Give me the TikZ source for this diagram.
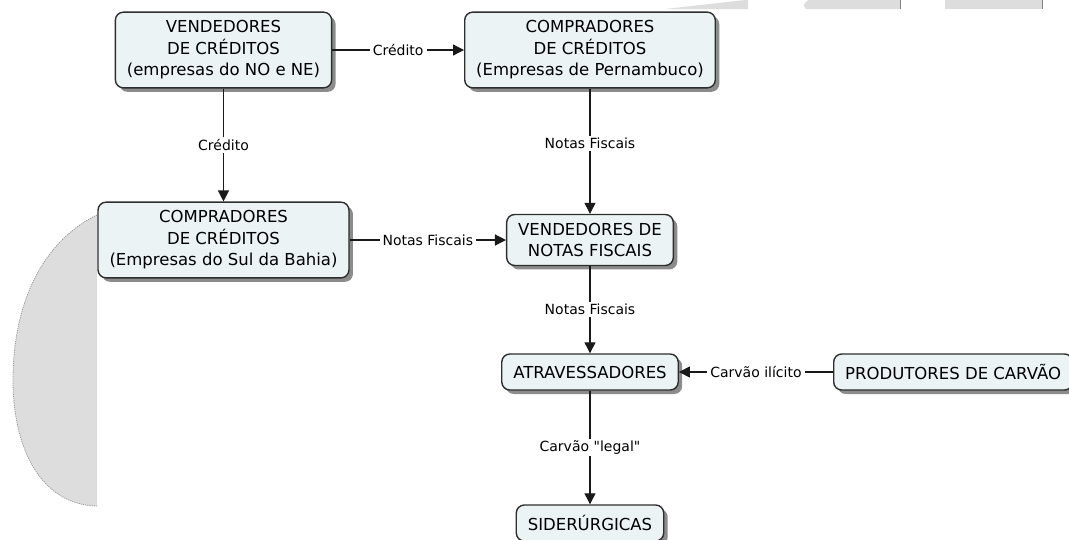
\documentclass[tikz,border=0pt]{standalone}
\usepackage{fontspec}
\setmainfont{DejaVu Sans}
\usetikzlibrary{arrows.meta}
\usetikzlibrary{shadows}
\definecolor{boxfill}{HTML}{EBF3F5}
\definecolor{boxline}{HTML}{2E2E2E}
\definecolor{blotch}{HTML}{DDDDDD}
\tikzset{
	every path/.style={line width=1.2pt},
	concept/.style={
		draw=boxline,
		fill=boxfill,
		line width=1.4pt,
		rounded corners=8pt,
		align=center,
		font=\fontsize{16.5}{21.5}\selectfont,
		inner xsep=11.5pt,
		inner ysep=8.5pt,
		drop shadow={shadow xshift=4pt, shadow yshift=-4pt, fill=black!45, opacity=1},
	},
	single/.style={
		minimum height=36pt,
		inner ysep=0pt,
	},
	flow/.style={
		draw=black!90,
		-{Triangle[width=11pt,length=11pt]}
	},
	flowlabel/.style={
		fill=white,
		font=\fontsize{14}{16}\selectfont,
		inner xsep=3pt,
		inner ysep=2pt,
	},
}

\begin{document}
\begin{tikzpicture}[x=1pt, y=-1pt]
		\useasboundingbox (0,0) rectangle (1069,539);

		% grey leftovers of the scanned page
		\fill[blotch] (97,215) .. controls (45,240) and (13,300) .. (13,380) .. controls (13,450) and (42,505) .. (97,506) -- cycle;
		\draw[gray!80, densely dotted, line width=0.8pt] (97,215) .. controls (45,240) and (13,300) .. (13,380) .. controls (13,450) and (42,505) .. (97,506);
		\fill[blotch] (665,9) -- (745,0) -- (748,0) -- (748,9) -- cycle;
		\fill[blotch] (806,9) .. controls (803,5) .. (808,0) -- (900,0) -- (900,9) -- cycle;
		\draw[gray, line width=0.8pt] (900,0) -- (900,9);
		\fill[blotch] (945,0) rectangle (1042,9);
		\draw[gray, line width=0.8pt] (1042,0) -- (1042,9);

%*********

		\node[concept]     			(sellers) at (223.5,50) {VENDEDORES\\DE CRÉDITOS\\(empresas do NO e NE)};
		\node[concept]     			(buyerspe) at (590,50) {COMPRADORES\\DE CRÉDITOS\\(Empresas de Pernambuco)};
		\node[concept]     			(buyersba) at (223.5,240) {COMPRADORES\\DE CRÉDITOS\\(Empresas do Sul da Bahia)};
		\node[concept]     			(invoices) at (590,240) {VENDEDORES DE\\NOTAS FISCAIS};

		\draw[flow] 					(sellers) -- node[flowlabel] {Crédito} (buyerspe);
		\draw[flow] 					(sellers) -- node[flowlabel] {Crédito} (buyersba);
		\draw[flow] 					(buyerspe) -- node[flowlabel, pos=0.44] {Notas Fiscais} (invoices);
		\draw[flow] 					(buyersba) -- node[flowlabel] {Notas Fiscais} (invoices);

%*********

		\node[concept, single]     	(middlemen) at (590,372) {ATRAVESSADORES};
		\node[concept, single, anchor=west] (producers) at (833,372) {PRODUTORES DE CARVÃO};
		\node[concept, single]     	(steel) at (590,523) {SIDERÚRGICAS};

		\draw[flow] 					(invoices) -- node[flowlabel] {Notas Fiscais} (middlemen);
		\draw[flow] 					(producers) -- node[flowlabel] {Carvão ilícito} (middlemen);
		\draw[flow] 					(middlemen) -- node[flowlabel] {Carvão \textquotedbl legal\textquotedbl} (steel);

	\end{tikzpicture}
\end{document}
